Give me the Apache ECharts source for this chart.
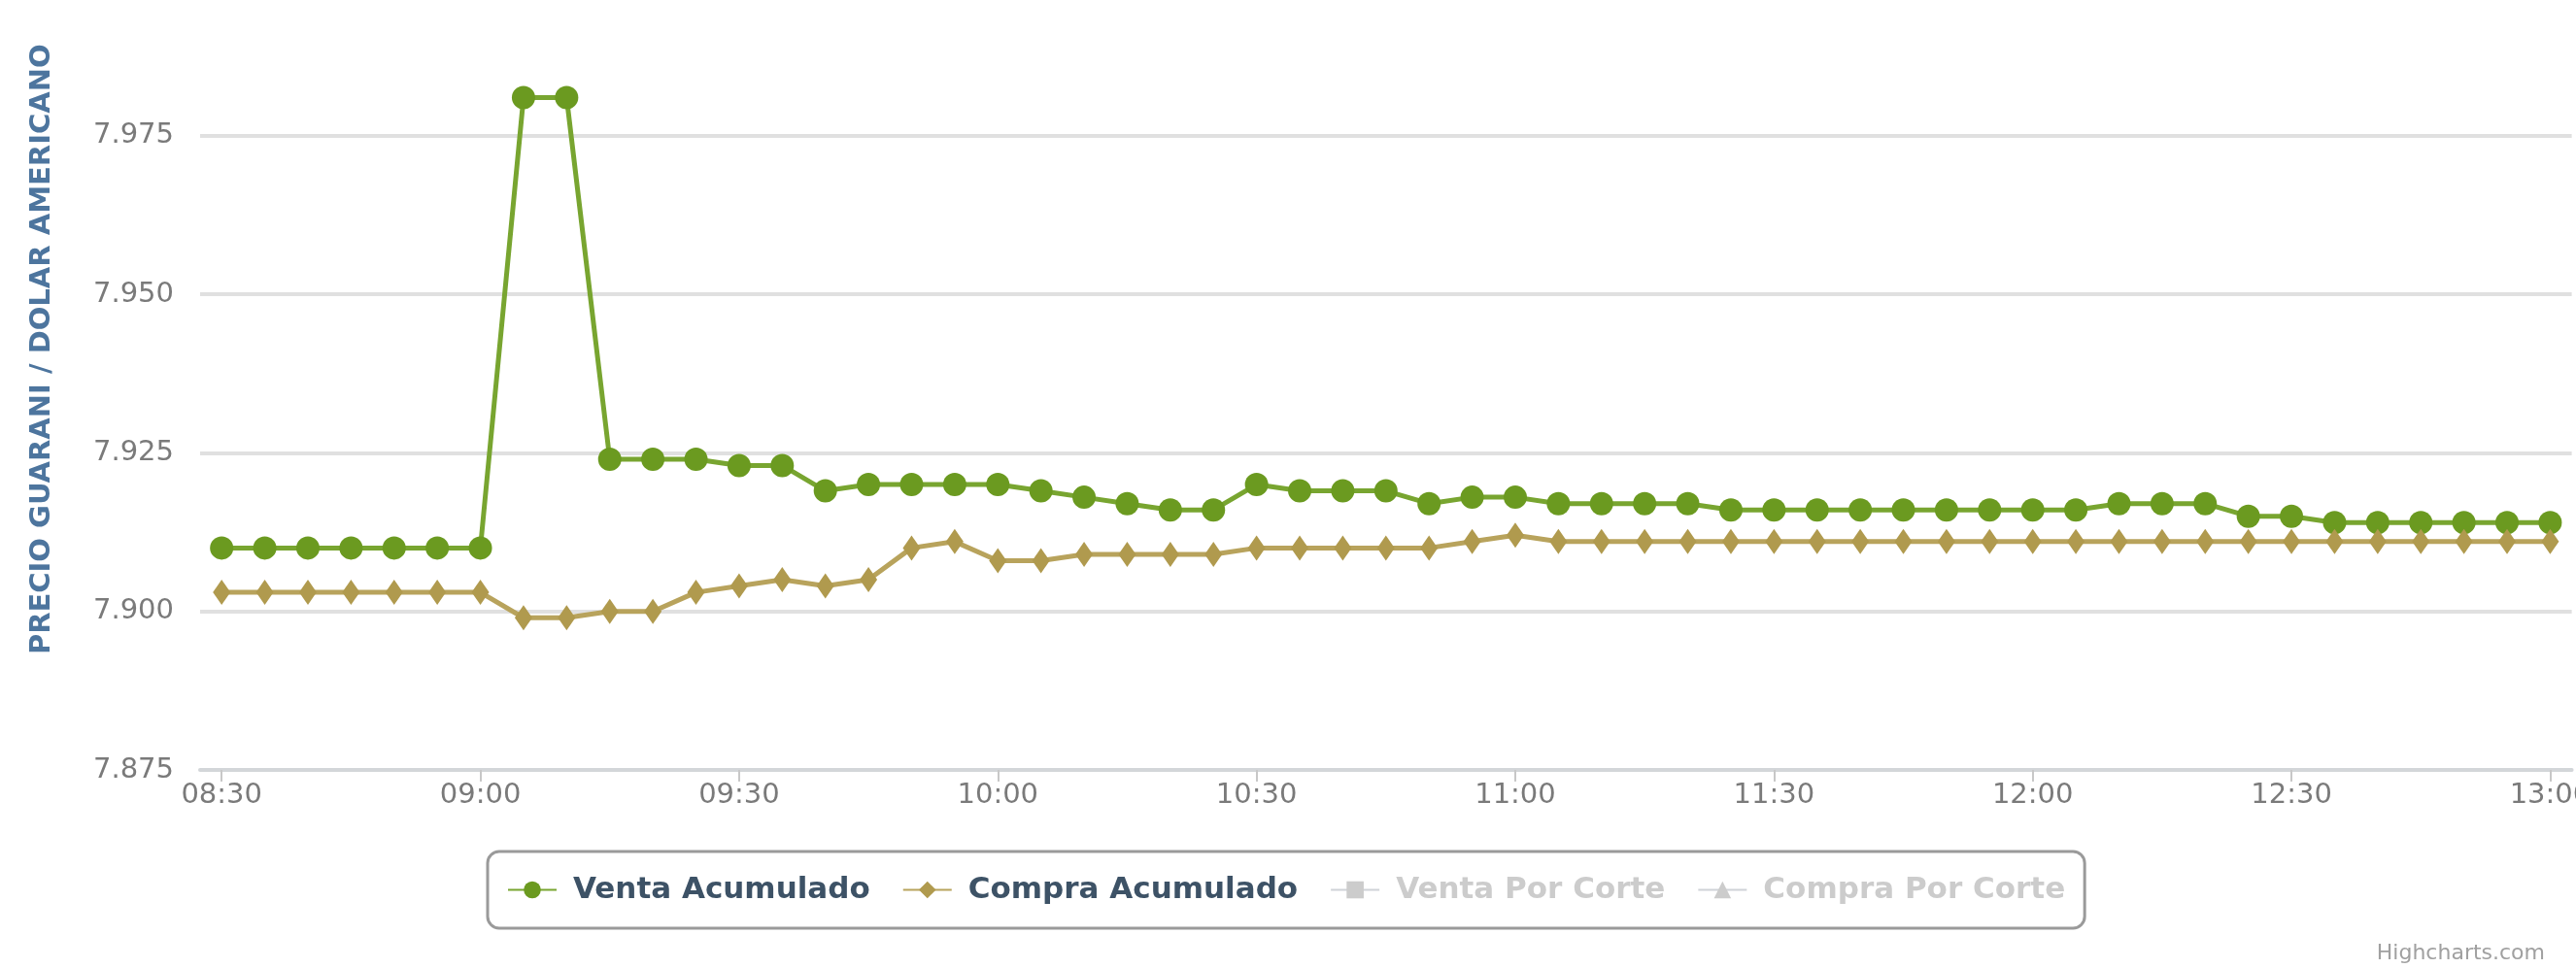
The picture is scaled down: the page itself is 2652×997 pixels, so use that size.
<!DOCTYPE html>
<html>
<head>
<meta charset="utf-8">
<title>Cotizacion Guarani / Dolar</title>
<script src="https://cdn.jsdelivr.net/npm/echarts@6/dist/echarts.min.js"></script>
<style>
  html, body { margin: 0; padding: 0; background: #fff; overflow: hidden; width: 2652px; height: 997px; }
  /* el grafico original esta recortado arriba y a la derecha */
  #main { position: absolute; left: 0; top: -38px; width: 2670px; height: 1035px; }
</style>
</head>
<body>
<div id="main"></div>
<script>
// horas del dia, cada 5 minutos
var horas = ["08:30","08:35","08:40","08:45","08:50","08:55","09:00","09:05","09:10","09:15","09:20","09:25",
             "09:30","09:35","09:40","09:45","09:50","09:55","10:00","10:05","10:10","10:15","10:20","10:25",
             "10:30","10:35","10:40","10:45","10:50","10:55","11:00","11:05","11:10","11:15","11:20","11:25",
             "11:30","11:35","11:40","11:45","11:50","11:55","12:00","12:05","12:10","12:15","12:20","12:25",
             "12:30","12:35","12:40","12:45","12:50","12:55","13:00"];

var ventaAcumulado = [7.910,7.910,7.910,7.910,7.910,7.910,7.910,7.981,7.981,7.924,7.924,7.924,
                      7.923,7.923,7.919,7.920,7.920,7.920,7.920,7.919,7.918,7.917,7.916,7.916,
                      7.920,7.919,7.919,7.919,7.917,7.918,7.918,7.917,7.917,7.917,7.917,7.916,
                      7.916,7.916,7.916,7.916,7.916,7.916,7.916,7.916,7.917,7.917,7.917,7.915,
                      7.915,7.914,7.914,7.914,7.914,7.914,7.914];

var compraAcumulado = [7.903,7.903,7.903,7.903,7.903,7.903,7.903,7.899,7.899,7.900,7.900,7.903,
                       7.904,7.905,7.904,7.905,7.910,7.911,7.908,7.908,7.909,7.909,7.909,7.909,
                       7.910,7.910,7.910,7.910,7.910,7.911,7.912,7.911,7.911,7.911,7.911,7.911,
                       7.911,7.911,7.911,7.911,7.911,7.911,7.911,7.911,7.911,7.911,7.911,7.911,
                       7.911,7.911,7.911,7.911,7.911,7.911,7.911];

// series ocultas en la leyenda (sin datos visibles)
var ventaPorCorte = [];
var compraPorCorte = [];

var yMin = 7.875, yMax = 8.000, yPaso = 0.025;

var fuente = '"DejaVu Sans", Verdana, Arial, sans-serif';

var myChart = echarts.init(document.getElementById('main'));

option = {
    backgroundColor: '#ffffff',
    animation: false,
    grid: {
        left: 206,
        right: 0,
        top: 0,
        bottom: 204
    },
    legend: {
        left: 502,
        top: 915,
        padding: [24, 20],
        itemWidth: 50,
        itemHeight: 22,
        itemGap: 33,
        borderColor: '#9a9a9a',
        borderWidth: 3,
        borderRadius: 12,
        inactiveColor: '#cccccc',
        textStyle: {
            fontFamily: fuente,
            fontSize: 31,
            fontWeight: 'bold',
            color: '#3d5266',
            padding: [0, 0, 0, 12]
        },
        data: ['Venta Acumulado', 'Compra Acumulado', 'Venta Por Corte', 'Compra Por Corte'],
        selected: {
            'Venta Por Corte': false,
            'Compra Por Corte': false
        }
    },
    xAxis: {
        type: 'category',
        data: horas,
        boundaryGap: true,
        axisLine: { lineStyle: { color: '#d3d6d9', width: 4 } },
        axisTick: { show: true, alignWithLabel: true, interval: 5, length: 12, lineStyle: { color: '#c8c8c8', width: 2 } },
        axisLabel: {
            interval: 5,
            margin: 12,
            fontFamily: fuente,
            fontSize: 29,
            color: '#7a7a7a'
        },
        splitLine: { show: false }
    },
    yAxis: {
        type: 'value',
        min: yMin,
        max: yMax,
        interval: yPaso,
        name: 'PRECIO GUARANI / DOLAR AMERICANO',
        nameLocation: 'middle',
        nameGap: 148,
        nameTextStyle: {
            fontFamily: fuente,
            fontSize: 29,
            fontWeight: 'bold',
            color: '#4d759e',
            padding: [0, 0, 0, 50]
        },
        axisLine: { show: false },
        axisTick: { show: false },
        axisLabel: {
            margin: 27,
            fontFamily: fuente,
            fontSize: 29,
            color: '#7a7a7a',
            formatter: function (v) { return v.toFixed(3); }
        },
        splitLine: { lineStyle: { color: '#e0e0e0', width: 4 } }
    },
    series: [
        {
            name: 'Venta Acumulado',
            type: 'line',
            data: ventaAcumulado,
            symbol: 'circle',
            symbolSize: 24,
            itemStyle: { color: '#6b9a20' },
            lineStyle: { color: '#78a530', width: 5 }
        },
        {
            name: 'Compra Acumulado',
            type: 'line',
            data: compraAcumulado,
            symbol: 'diamond',
            symbolSize: [18, 26],
            itemStyle: { color: '#b09a4e' },
            lineStyle: { color: '#b8a35c', width: 5 }
        },
        {
            name: 'Venta Por Corte',
            type: 'line',
            data: ventaPorCorte,
            symbol: 'square',
            itemStyle: { color: '#8aa0b8' }
        },
        {
            name: 'Compra Por Corte',
            type: 'line',
            data: compraPorCorte,
            symbol: 'triangle',
            itemStyle: { color: '#a08a6a' }
        }
    ],
    graphic: [
        {
            type: 'text',
            right: 50,
            top: 1009,
            style: {
                text: 'Highcharts.com',
                fontFamily: fuente,
                fontSize: 22,
                fill: '#a0a0a0'
            }
        }
    ]
};

myChart.setOption(option);
</script>
</body>
</html>
